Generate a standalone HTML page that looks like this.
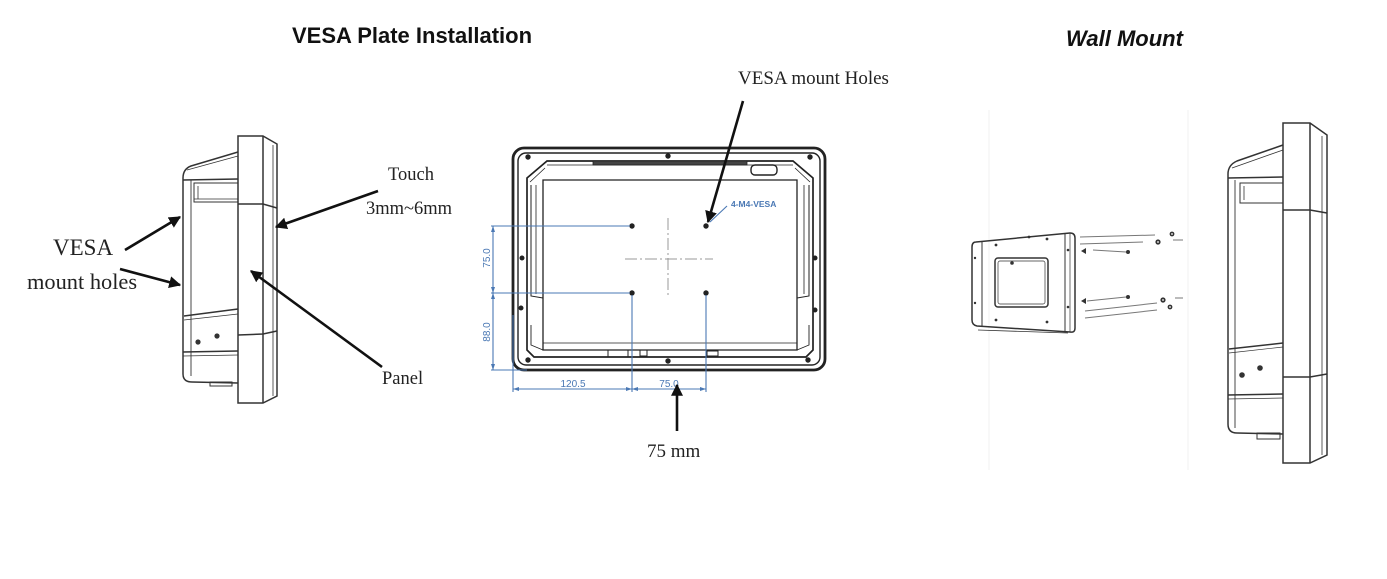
<!DOCTYPE html>
<html>
<head>
<meta charset="utf-8">
<style>
  html,body{margin:0;padding:0;background:#fff;}
  body{width:1387px;height:579px;overflow:hidden;}
  svg{display:block;}
  .serif{font-family:"Liberation Serif",serif;fill:#222;}
  .sans{font-family:"Liberation Sans",sans-serif;}
</style>
</head>
<body>
<svg width="1387" height="579" viewBox="0 0 1387 579" xmlns="http://www.w3.org/2000/svg">
  <defs>
    <marker id="ah2" viewBox="0 0 10 10" refX="9" refY="5" markerWidth="12" markerHeight="12" markerUnits="userSpaceOnUse" orient="auto">
      <path d="M0,0 L10,5 L0,10 z" fill="#111"/>
    </marker>
  </defs>
  <rect width="1387" height="579" fill="#fff"/>

  <!-- Titles -->
  <text x="292" y="43" class="sans" font-size="22" font-weight="bold" fill="#111">VESA Plate Installation</text>
  <text x="1066" y="46" class="sans" font-size="22" font-weight="bold" font-style="italic" fill="#111">Wall Mount</text>

  <!-- ================= LEFT SIDE VIEW ================= -->
  <g fill="none" stroke="#333" stroke-width="1.5">
    <path d="M238,136 L263,136 L277,144 L277,396 L263,403 L238,403 Z"/>
    <line x1="263" y1="136" x2="263" y2="403"/>
    <line x1="273" y1="145" x2="273" y2="396" stroke-width="0.8"/>
    <path d="M238,204 L263,204 L277,208"/>
    <path d="M238,335 L263,334 L277,331"/>
    <path d="M238,152 L191,166 Q183,169 183,178 L183,374 Q183,382 192,382 L238,383"/>
    <line x1="187" y1="170" x2="238" y2="156" stroke-width="0.8"/>
    <line x1="191" y1="180" x2="191" y2="376" stroke-width="0.9"/>
    <line x1="183" y1="180" x2="238" y2="179"/>
    <rect x="194" y="183" width="44" height="19" stroke-width="1"/>
    <line x1="198" y1="186" x2="198" y2="199" stroke-width="0.8"/>
    <line x1="194" y1="199" x2="238" y2="199" stroke-width="0.8"/>
    <path d="M184,316 L238,309"/>
    <line x1="184" y1="320" x2="238" y2="314" stroke-width="0.7"/>
    <line x1="183" y1="352" x2="238" y2="351"/>
    <line x1="183" y1="356" x2="238" y2="355" stroke-width="0.7"/>
    <rect x="210" y="382" width="22" height="4" stroke-width="1"/>
  </g>
  <circle cx="198" cy="342" r="2.6" fill="#333"/>
  <circle cx="217" cy="336" r="2.6" fill="#333"/>

  <!-- left labels -->
  <text x="53" y="255" class="serif" font-size="23">VESA</text>
  <text x="27" y="289" class="serif" font-size="22.4">mount holes</text>
  <text x="388" y="180" class="serif" font-size="18.5">Touch</text>
  <text x="366" y="214" class="serif" font-size="18.5">3mm~6mm</text>
  <text x="382" y="384" class="serif" font-size="18.5">Panel</text>

  <!-- left arrows -->
  <g stroke="#111" stroke-width="2.6" fill="none">
    <line x1="125" y1="250" x2="180" y2="217" marker-end="url(#ah2)"/>
    <line x1="120" y1="269" x2="180" y2="285" marker-end="url(#ah2)"/>
    <line x1="378" y1="191" x2="276" y2="227" marker-end="url(#ah2)"/>
    <line x1="382" y1="367" x2="251" y2="271" marker-end="url(#ah2)"/>
  </g>

  <!-- ================= MIDDLE FRONT VIEW ================= -->
  <g fill="none" stroke="#222">
    <rect x="513" y="148" width="312" height="222" rx="11" stroke-width="2.8"/>
    <rect x="518" y="153" width="302" height="212" rx="8" stroke-width="1.4"/>
    <path d="M547,161 L793,161 L813,178 L813,350 L806,357 L534,357 L527,350 L527,178 Z" stroke-width="1.7"/>
    <path d="M543,180 L797,180 L797,350 L543,350 Z" stroke-width="1.3"/>
    <line x1="547" y1="165" x2="793" y2="165" stroke-width="0.8"/>
    <line x1="530" y1="182" x2="545" y2="168" stroke-width="0.8"/>
    <line x1="810" y1="182" x2="795" y2="168" stroke-width="0.8"/>
    <path d="M531,185 L531,296 L543,298" stroke-width="1"/>
    <path d="M536,185 L536,294" stroke-width="0.8"/>
    <path d="M809,185 L809,296 L797,298" stroke-width="1"/>
    <path d="M804,185 L804,294" stroke-width="0.8"/>
    <path d="M531,325 L531,345 L543,350" stroke-width="0.9"/>
    <path d="M809,325 L809,345 L797,350" stroke-width="0.9"/>
    <line x1="543" y1="343" x2="797" y2="343" stroke-width="0.8"/>
    <rect x="593" y="161" width="154" height="4" fill="#444" stroke-width="0.8"/>
    <rect x="751" y="165" width="26" height="10" rx="4" stroke-width="1.4"/>
    <rect x="608" y="350" width="20" height="7" stroke-width="1"/>
    <rect x="640" y="350" width="7" height="6" stroke-width="1"/>
    <rect x="707" y="351" width="11" height="5" stroke-width="1"/>
  </g>
  <g fill="#222">
    <circle cx="528" cy="157" r="2.7"/>
    <circle cx="668" cy="156" r="2.7"/>
    <circle cx="810" cy="157" r="2.7"/>
    <circle cx="522" cy="258" r="2.5"/>
    <circle cx="815" cy="258" r="2.5"/>
    <circle cx="521" cy="308" r="2.5"/>
    <circle cx="815" cy="310" r="2.5"/>
    <circle cx="528" cy="360" r="2.7"/>
    <circle cx="668" cy="361" r="2.7"/>
    <circle cx="808" cy="360" r="2.7"/>
    <circle cx="632" cy="226" r="2.7"/>
    <circle cx="706" cy="226" r="2.7"/>
    <circle cx="632" cy="293" r="2.7"/>
    <circle cx="706" cy="293" r="2.7"/>
  </g>
  <g stroke="#999" stroke-width="1" stroke-dasharray="12,3,2,3" fill="none">
    <line x1="625" y1="259" x2="713" y2="259"/>
    <line x1="668" y1="218" x2="668" y2="298"/>
  </g>
  <g stroke="#4a78b4" stroke-width="1.1" fill="none">
    <line x1="491" y1="226" x2="630" y2="226"/>
    <line x1="491" y1="293" x2="630" y2="293"/>
    <line x1="491" y1="370" x2="527" y2="370"/>
    <line x1="493" y1="226" x2="493" y2="370"/>
    <line x1="632" y1="295" x2="632" y2="392"/>
    <line x1="706" y1="295" x2="706" y2="392"/>
    <line x1="513" y1="315" x2="513" y2="392"/>
    <line x1="513" y1="389" x2="706" y2="389"/>
    <line x1="727" y1="206" x2="710" y2="222"/>
  </g>
  <g fill="#4a78b4">
    <path d="M493,226 L491,232 L495,232 Z"/>
    <path d="M493,293 L491,287 L495,287 Z"/>
    <path d="M493,293 L491,299 L495,299 Z"/>
    <path d="M493,370 L491,364 L495,364 Z"/>
    <path d="M513,389 L519,387 L519,391 Z"/>
    <path d="M632,389 L626,387 L626,391 Z"/>
    <path d="M632,389 L638,387 L638,391 Z"/>
    <path d="M706,389 L700,387 L700,391 Z"/>
  </g>
  <g class="sans" font-size="10" fill="#4a78b4" text-anchor="middle">
    <text x="0" y="0" transform="translate(490,258) rotate(-90)">75.0</text>
    <text x="0" y="0" transform="translate(490,332) rotate(-90)">88.0</text>
    <text x="573" y="387">120.5</text>
    <text x="669" y="387">75.0</text>
  </g>
  <text x="731" y="207" class="sans" font-size="8.5" font-weight="bold" fill="#4a78b4">4-M4-VESA</text>

  <text x="738" y="84" class="serif" font-size="19">VESA mount Holes</text>
  <text x="647" y="457" class="serif" font-size="19">75 mm</text>
  <g stroke="#111" stroke-width="2.6" fill="none">
    <line x1="743" y1="101" x2="708" y2="222" marker-end="url(#ah2)"/>
    <line x1="677" y1="431" x2="677" y2="385" marker-end="url(#ah2)"/>
  </g>

  <!-- ================= WALL MOUNT ================= -->
  <g stroke="#f0f0f0" stroke-width="1">
    <line x1="989" y1="110" x2="989" y2="470"/>
    <line x1="1188" y1="110" x2="1188" y2="470"/>
  </g>
  <g fill="none" stroke="#333" stroke-width="1.5">
    <path d="M976,242 L1070,233 Q1075,233 1075,238 L1075,328 Q1075,333 1070,332 L977,326 Q972,325 972,320 L972,247 Q972,242 976,242 Z"/>
    <line x1="982" y1="241" x2="982" y2="326" stroke-width="1"/>
    <line x1="1065" y1="234" x2="1065" y2="331" stroke-width="1"/>
    <line x1="1070" y1="234" x2="1070" y2="332" stroke-width="0.7"/>
    <rect x="995" y="258" width="53" height="49" rx="3"/>
    <rect x="998" y="261" width="47" height="43" rx="2" stroke-width="0.7"/>
    <line x1="978" y1="330" x2="1068" y2="333" stroke-width="0.8"/>
  </g>
  <g fill="#333">
    <circle cx="1012" cy="263" r="1.8"/>
    <circle cx="996" cy="245" r="1.4"/>
    <circle cx="1029" cy="237" r="1.4"/>
    <circle cx="1047" cy="239" r="1.4"/>
    <circle cx="996" cy="320" r="1.4"/>
    <circle cx="1047" cy="322" r="1.4"/>
    <circle cx="1068" cy="250" r="1.3"/>
    <circle cx="1068" cy="307" r="1.3"/>
    <circle cx="975" cy="258" r="1.2"/>
    <circle cx="975" cy="303" r="1.2"/>
  </g>
  <g stroke="#777" stroke-width="1" fill="none">
    <line x1="1080" y1="237" x2="1155" y2="235"/>
    <line x1="1080" y1="244" x2="1143" y2="242"/>
    <line x1="1093" y1="250" x2="1126" y2="252"/>
    <line x1="1173" y1="240" x2="1183" y2="240"/>
    <line x1="1087" y1="301" x2="1126" y2="297"/>
    <line x1="1085" y1="311" x2="1157" y2="303"/>
    <line x1="1085" y1="318" x2="1157" y2="310"/>
    <line x1="1175" y1="298" x2="1183" y2="298"/>
  </g>
  <g fill="#333">
    <path d="M1081,251 L1086,248 L1086,254 Z"/>
    <path d="M1081,301 L1086,298 L1086,304 Z"/>
    <circle cx="1128" cy="252" r="2"/>
    <circle cx="1128" cy="297" r="2"/>
    <circle cx="1158" cy="242" r="2.6"/>
    <circle cx="1172" cy="234" r="2.4"/>
    <circle cx="1163" cy="300" r="2.6"/>
    <circle cx="1170" cy="307" r="2.4"/>
  </g>
  <g fill="#fff">
    <circle cx="1158" cy="242" r="0.9"/>
    <circle cx="1172" cy="234" r="0.9"/>
    <circle cx="1163" cy="300" r="0.9"/>
    <circle cx="1170" cy="307" r="0.9"/>
  </g>

  <g fill="none" stroke="#333" stroke-width="1.5">
    <path d="M1283,123 L1310,123 L1327,135 L1327,455 L1310,463 L1283,463 Z"/>
    <line x1="1310" y1="123" x2="1310" y2="463"/>
    <line x1="1322" y1="136" x2="1322" y2="455" stroke-width="0.8"/>
    <path d="M1283,210 L1310,210 L1327,213"/>
    <path d="M1283,377 L1310,377 L1327,374"/>
    <path d="M1283,145 L1237,161 Q1228,165 1228,174 L1228,424 Q1228,433 1237,433 L1283,434"/>
    <line x1="1232" y1="168" x2="1283" y2="150" stroke-width="0.8"/>
    <line x1="1235" y1="180" x2="1235" y2="428" stroke-width="0.9"/>
    <line x1="1228" y1="178" x2="1283" y2="177"/>
    <rect x="1240" y="183" width="43" height="20" stroke-width="1"/>
    <line x1="1244" y1="186" x2="1244" y2="200" stroke-width="0.8"/>
    <path d="M1229,349 L1283,343"/>
    <line x1="1229" y1="353" x2="1283" y2="347" stroke-width="0.7"/>
    <line x1="1228" y1="395" x2="1283" y2="394"/>
    <line x1="1228" y1="399" x2="1283" y2="398" stroke-width="0.7"/>
    <rect x="1257" y="433" width="23" height="6" stroke-width="1"/>
  </g>
  <circle cx="1242" cy="375" r="2.8" fill="#333"/>
  <circle cx="1260" cy="368" r="2.8" fill="#333"/>
</svg>
</body>
</html>
